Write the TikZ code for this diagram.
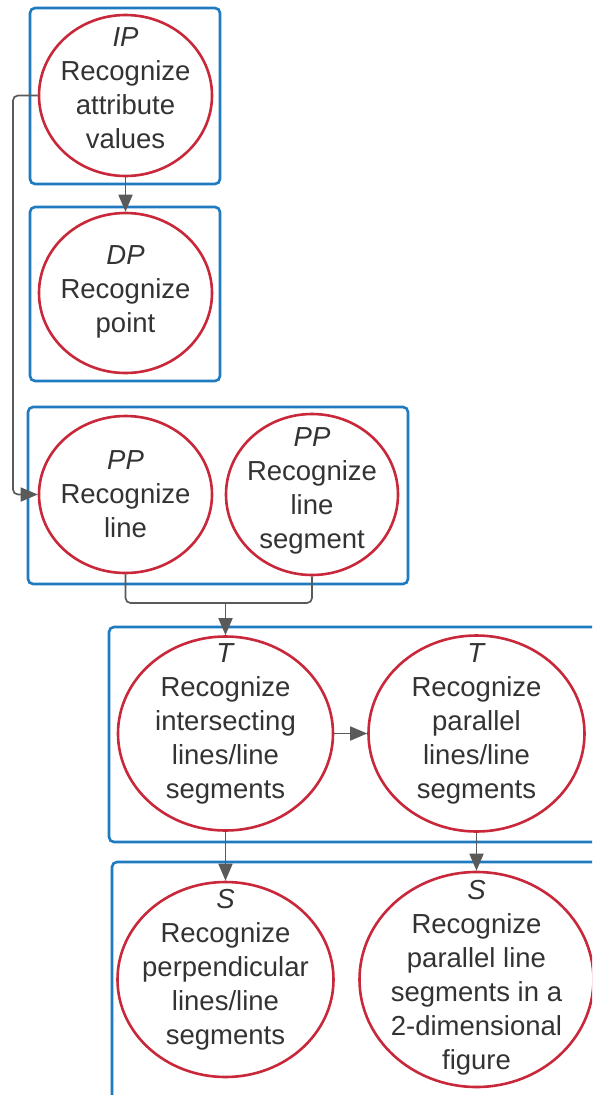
\documentclass[tikz,border=0pt]{standalone}
\usepackage{fontspec}
\setmainfont{Liberation Sans}
\usetikzlibrary{shapes.geometric,arrows.meta}
\definecolor{boxblue}{HTML}{1F7BBF}
\definecolor{ellred}{HTML}{C8283A}
\definecolor{txtgray}{HTML}{333333}
\definecolor{conngray}{HTML}{5A5A5A}
\tikzset{
  grpbox/.style={draw=boxblue, line width=2.6pt, rounded corners=5pt, rectangle, inner sep=0pt},
  ell/.style={draw=ellred, line width=2.6pt, ellipse, inner sep=0pt},
  lbl/.style={text=txtgray, align=center, font=\fontsize{27.5}{34}\selectfont, inner sep=0pt},
  conn/.style={draw=conngray, line width=1.7pt},
  arr/.style={conn, -{Triangle[length=17pt,width=14pt,sharp]}}
}
\begin{document}
\begin{tikzpicture}[x=1pt,y=-1pt]
\clip (0,0) rectangle (592,1095);
\fill[white] (0,0) rectangle (592,1095);
% group boxes
\node[grpbox, minimum width=190pt, minimum height=176pt] (b1) at (125,96) {};
\node[grpbox, minimum width=190pt, minimum height=174pt] (b2) at (125,294) {};
\node[grpbox, minimum width=380pt, minimum height=177pt] (b3) at (218,495.5) {};
\node[grpbox, minimum width=491pt, minimum height=215pt] (b4) at (354.5,734.5) {};
\node[grpbox, minimum width=488pt, minimum height=248pt] (b5) at (356,986) {};
% ellipses
\node[ell, minimum width=173pt, minimum height=161pt] (e1) at (125.5,95.5) {};
\node[ell, minimum width=173pt, minimum height=160pt] (e2) at (125.5,293) {};
\node[ell, minimum width=173pt, minimum height=157pt] (e3) at (125.5,494.5) {};
\node[ell, minimum width=172pt, minimum height=161pt] (e4) at (312,494.5) {};
\node[ell, minimum width=215pt, minimum height=194pt] (e5) at (225.5,733.5) {};
\node[ell, minimum width=216pt, minimum height=196pt] (e6) at (476.5,733.5) {};
\node[ell, minimum width=216pt, minimum height=195pt] (e7) at (225.5,979.5) {};
\node[ell, minimum width=234pt, minimum height=215pt] (e8) at (476.5,979.5) {};
% texts
\node[lbl] (t1) at (125.5,88) {\textit{IP}\\Recognize\\attribute\\values};
\node[lbl] (t2) at (125.5,292) {\textit{DP}\\Recognize\\point};
\node[lbl] (t3) at (125.5,494) {\textit{PP}\\Recognize\\line};
\node[lbl] (t4) at (312,491) {\textit{PP}\\Recognize\\line\\segment};
\node[lbl] (t5) at (225.5,724) {\textit{T}\\Recognize\\intersecting\\lines/line\\segments};
\node[lbl] (t6) at (476.5,724) {\textit{T}\\Recognize\\parallel\\lines/line\\segments};
\node[lbl] (t7) at (225.5,970) {\textit{S}\\Recognize\\perpendicular\\lines/line\\segments};
\node[lbl] (t8) at (476.5,978) {\textit{S}\\Recognize\\parallel line\\segments in a\\2-dimensional\\figure};
% connectors
\coordinate (jn) at (225.5,603);
\coordinate (lc) at (13,95.5);
\draw[arr] (e1.south) -- (e2.north);
\draw[arr, rounded corners=5pt] (e1.west) -- (lc) |- (e3.west);
\draw[conn, rounded corners=5pt] (e3.south) |- (jn) -| (e4.south);
\draw[arr] (jn) -- (e5.north);
\draw[arr] (e5.east) -- (e6.west);
\draw[arr] (e5.south) -- (e7.north);
\draw[arr] (e6.south) -- (e8.north);
\end{tikzpicture}
\end{document}
